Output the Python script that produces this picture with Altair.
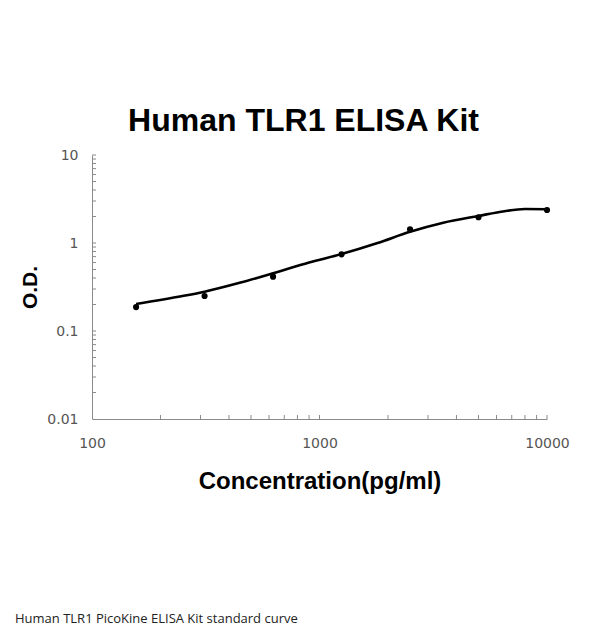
import altair as alt
import pandas as pd

# measured standard points
conc = [156.25, 312.5, 625, 1250, 2500, 5000, 10000]
od = [0.187, 0.25, 0.414, 0.743, 1.43, 1.96, 2.37]

# fitted curve
curve_conc = [156.25, 250, 312.5, 450, 625, 900, 1250, 1800, 2500, 3500, 5000, 6500, 8000, 10000]
curve_od = [0.203, 0.25, 0.28, 0.355, 0.453, 0.60, 0.75, 1.0, 1.34, 1.70, 2.03, 2.30, 2.43, 2.42]

x_minor = [200, 300, 400, 500, 600, 700, 800, 900, 1000,
           2000, 3000, 4000, 5000, 6000, 7000, 8000, 9000, 10000]
y_minor = [0.02, 0.03, 0.04, 0.05, 0.06, 0.07, 0.08, 0.09, 0.1,
           0.2, 0.3, 0.4, 0.5, 0.6, 0.7, 0.8, 0.9, 1,
           2, 3, 4, 5, 6, 7, 8, 9, 10]

x_ticks = [100, 1000, 10000]
y_ticks = [0.01, 0.1, 1, 10]

W, H = 455, 264

pts = pd.DataFrame({"conc": conc, "od": od})
crv = pd.DataFrame({"conc": curve_conc, "od": curve_od})
xm = pd.DataFrame({"v": x_minor})
ym = pd.DataFrame({"v": y_minor})

xscale = alt.Scale(type="log", domain=[100, 10000], nice=False)
yscale = alt.Scale(type="log", domain=[0.01, 10], nice=False)

lab_font = "DejaVu Sans"

xaxis = alt.Axis(values=x_ticks, format="d", title="Concentration(pg/ml)",
                 grid=False, ticks=False, domainColor="#8a8a8a", domainWidth=1,
                 labelFont=lab_font, labelFontSize=14, labelColor="#555555",
                 labelFlush=False, labelOverlap=False,
                 labelPadding=17, titleFont="Liberation Sans", titleFontWeight="bold",
                 titleFontSize=24, titleColor="#000000", titlePadding=19)
yaxis = alt.Axis(values=y_ticks, title="O.D.", grid=False, ticks=False,
                 labelExpr="datum.value >= 1 ? format(datum.value, 'd') : format(datum.value, '')",
                 domainColor="#8a8a8a", domainWidth=1, labelFlush=False,
                 labelFont=lab_font, labelFontSize=14, labelColor="#555555",
                 labelPadding=14, titleFont="Liberation Sans", titleFontWeight="bold",
                 titleFontSize=21, titleColor="#000000", titlePadding=6)

line = alt.Chart(crv).mark_line(color="black", strokeWidth=2.6, interpolate="monotone").encode(
    x=alt.X("conc:Q", scale=xscale, axis=xaxis),
    y=alt.Y("od:Q", scale=yscale, axis=yaxis),
)

points = alt.Chart(pts).mark_circle(color="black", size=38, opacity=1).encode(
    x=alt.X("conc:Q", scale=xscale),
    y=alt.Y("od:Q", scale=yscale),
)

xticks = alt.Chart(xm).mark_rule(color="#8a8a8a", strokeWidth=1).encode(
    x=alt.X("v:Q", scale=xscale),
    y=alt.value(H),
    y2=alt.value(H - 4),
)

yticks = alt.Chart(ym).mark_rule(color="#8a8a8a", strokeWidth=1).encode(
    y=alt.Y("v:Q", scale=yscale),
    x=alt.value(0),
    x2=alt.value(4),
)

footer = alt.Chart(pd.DataFrame({"t": ["Human TLR1 PicoKine ELISA Kit standard curve"]})).mark_text(
    align="left", baseline="middle", font="Open Sans", fontSize=13, color="#222222"
).encode(
    text="t:N",
    x=alt.value(-77),
    y=alt.value(464),
)

chart = alt.layer(xticks, yticks, line, points, footer).properties(
    width=W, height=H,
    padding={"top": 97, "left": 7, "right": 5, "bottom": 5},
    background="white",
    title=alt.TitleParams("Human TLR1 ELISA Kit", font="Liberation Sans", fontWeight="bold",
                          fontSize=32, color="#000000", offset=10, dx=-16),
).configure_view(stroke=None)

chart.save("out.html", embed_options={"renderer": "svg", "actions": False})
